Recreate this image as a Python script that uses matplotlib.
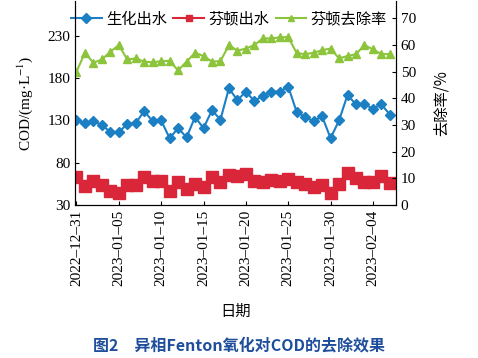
import numpy as np
import pandas as pd
import matplotlib
matplotlib.use('Agg')
import matplotlib.pyplot as plt
import matplotlib.dates as mdates

plt.rcParams['font.family'] = ['Liberation Serif', 'Noto Sans CJK SC']
plt.rcParams['mathtext.fontset'] = 'stix'

dates = pd.date_range('2022-12-31', periods=38, freq='D')
# 生化出水 COD
bio = [130, 127, 129, 125, 116, 116, 126, 127, 141, 129, 130, 109, 121, 110, 134, 121, 142, 131, 168,
       154, 164, 153, 159, 164, 164, 170, 140, 134, 129, 135, 109, 130, 160, 149, 149, 144, 149, 137]
# 芬顿出水 COD
fenton = [63, 53, 58, 54, 47, 44, 54, 54, 63, 58, 58, 47, 57, 49, 55, 51, 63, 57, 66,
          64, 67, 59, 57, 60, 59, 61, 57, 55, 52, 54, 44, 55, 68, 62, 57, 57, 64, 56]
# 芬顿去除率 %
rate = [50.0, 57.1, 53.4, 54.6, 57.5, 60.0, 54.6, 55.0, 53.8, 53.5, 54.0, 54.1, 50.5, 53.8, 57.1, 55.9,
        53.8, 54.0, 60.0, 57.9, 58.7, 60.0, 62.5, 62.5, 62.9, 63.0, 57.0, 56.6, 57.1, 58.1, 58.7, 55.0,
        55.9, 56.6, 60.0, 58.4, 56.6, 56.6]

c_blue = '#1b7fc3'
c_red = '#d92638'
c_green = '#8cc43c'

fig = plt.figure(figsize=(4.78, 3.58), dpi=100)
ax = fig.add_axes([0.157, 0.427, 0.671, 0.570])
ax2 = ax.twinx()

l1, = ax.plot(dates, bio, '-D', color=c_blue, lw=1.5, ms=5, label='生化出水')
l2, = ax.plot(dates, fenton, '-s', color=c_red, lw=1.5, ms=8, label='芬顿出水')
l3, = ax2.plot(dates, rate, '-^', color=c_green, lw=1.5, ms=6, label='芬顿去除率')

ax.set_ylim(30, 271)
ax.set_yticks([30, 80, 130, 180, 230])
ax2.set_ylim(0, 76.5)
ax2.set_yticks(range(0, 71, 10))
ax.set_xlim(dates[0] - pd.Timedelta(hours=4), dates[0] + pd.Timedelta(days=37.7))
ax.set_xticks(dates[::5])
ax.xaxis.set_major_formatter(mdates.DateFormatter('%Y–%m–%d'))
for lab in ax.get_xticklabels():
    lab.set_rotation(90)

ax.tick_params(direction='in', labelsize=11, length=3)
ax2.tick_params(direction='in', labelsize=11, length=3)
ax.spines['top'].set_visible(False)
ax2.spines['top'].set_visible(False)

ax.set_ylabel('COD/(mg·L$^{-1}$)', fontsize=11, labelpad=9)
ax2.set_ylabel('去除率/%', fontsize=11, family=['Noto Sans CJK SC'], labelpad=12)
ax.set_xlabel('日期', fontsize=11, family=['Noto Sans CJK SC'], labelpad=12)

leg = ax.legend(handles=[l1, l2, l3], loc='upper center', bbox_to_anchor=(0.48, 1.02), ncol=3,
                frameon=False, prop={'family': 'Noto Sans CJK SC', 'size': 11},
                handlelength=2.0, handletextpad=0.3, columnspacing=0.4)
for h in leg.legend_handles:
    h.set_markersize(5)

fig.text(0.5, 0.035, '图2　异相Fenton氧化对COD的去除效果', ha='center', va='center',
         fontsize=11.5, color='#1f4f9c', family=['Noto Sans CJK SC'], weight='bold')

fig.savefig('out.png', dpi=100)
